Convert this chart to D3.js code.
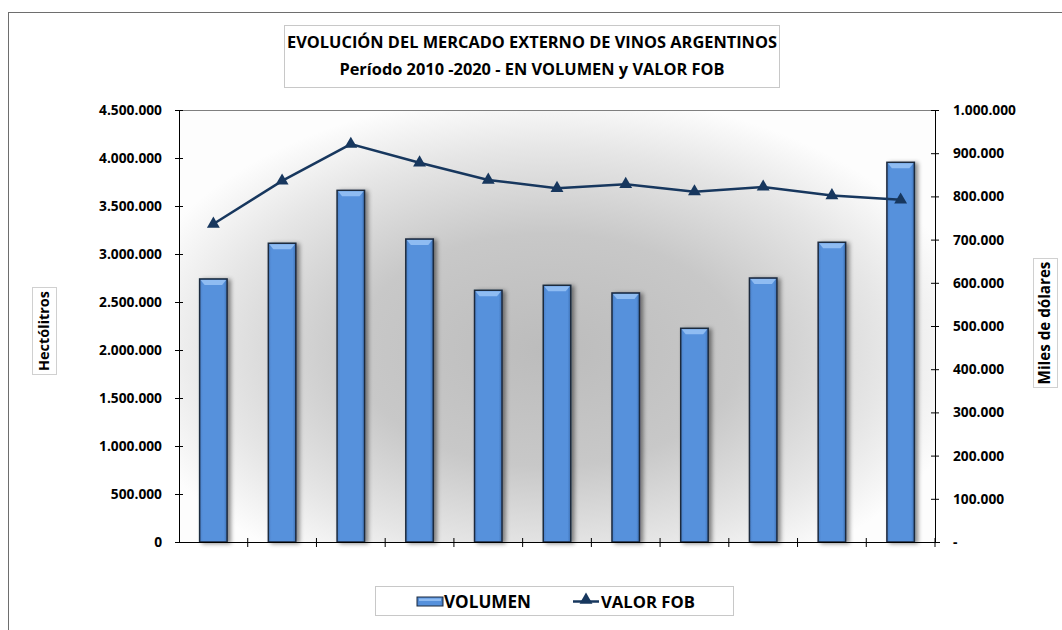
<!DOCTYPE html>
<html>
<head>
<meta charset="utf-8">
<script src="https://cdn.jsdelivr.net/npm/d3@7"></script>
<style>
  html, body { margin: 0; padding: 0; background: #ffffff; }
  svg { display: block; }
  text { font-family: "Open Sans", "Noto Sans", sans-serif; font-weight: bold; fill: #000; }
</style>
</head>
<body>
<svg id="chart" width="1062" height="630"></svg>
<script>
// ---- data ----
const years = ["2010","2011","2012","2013","2014","2015","2016","2017","2018","2019","2020"];
const volumen = [2740000, 3112000, 3663000, 3156000, 2622000, 2674000, 2594000, 2226000, 2750000, 3122000, 3955000];
const valorFob = [736000, 836000, 921000, 878000, 838000, 819000, 828000, 811000, 822000, 802000, 792000];
const leftTicks = [0, 500000, 1000000, 1500000, 2000000, 2500000, 3000000, 3500000, 4000000, 4500000];
const rightTicks = [0, 100000, 200000, 300000, 400000, 500000, 600000, 700000, 800000, 900000, 1000000];
const titleLines = ["EVOLUCIÓN DEL MERCADO EXTERNO DE VINOS ARGENTINOS", "Período 2010 -2020 - EN VOLUMEN y VALOR FOB"];
const seriesNames = ["VOLUMEN", "VALOR FOB"];
const axisTitles = ["Hectólitros", "Miles de dólares"];

// ---- layout ----
const svg = d3.select("#chart");
const L = 179, R = 935, T = 110, B = 542;
const loc = d3.formatLocale({decimal: ",", thousands: ".", grouping: [3], currency: ["$", ""]});
const fmt = loc.format(",.0f");

// size a text so its width matches a target width (Calibri-like metrics)
function fitSize(sel, target) {
  sel.style("font-size", "20px");
  const w = sel.node().getComputedTextLength();
  const s = 20 * target / w;
  sel.style("font-size", s + "px");
  return s;
}

const x = d3.scaleBand().domain(years).range([L, R]).paddingInner(0.6).paddingOuter(0.3);
const yL = d3.scaleLinear().domain([0, 4500000]).range([B, T]);
const yR = d3.scaleLinear().domain([0, 1000000]).range([B, T]);

const defs = svg.append("defs");
const bg = defs.append("radialGradient").attr("id", "bg")
  .attr("gradientUnits", "userSpaceOnUse")
  .attr("cx", 548).attr("cy", 350).attr("r", 430)
  .attr("gradientTransform", "translate(548,350) scale(1,0.6) translate(-548,-350)");
bg.append("stop").attr("offset", 0).attr("stop-color", "#bcbcbc");
bg.append("stop").attr("offset", 0.45).attr("stop-color", "#c8c8c8");
bg.append("stop").attr("offset", 0.78).attr("stop-color", "#e6e6e6");
bg.append("stop").attr("offset", 1).attr("stop-color", "#fdfdfd");

const sh = defs.append("filter").attr("id", "shadow").attr("x", "-30%").attr("y", "-10%").attr("width", "180%").attr("height", "130%");
sh.append("feDropShadow").attr("dx", 3).attr("dy", 1).attr("stdDeviation", 2)
  .attr("flood-color", "#000").attr("flood-opacity", 0.45);

const barGrad = defs.append("linearGradient").attr("id", "barg").attr("x1", 0).attr("x2", 1).attr("y1", 0).attr("y2", 0);
barGrad.append("stop").attr("offset", 0).attr("stop-color", "#4a80c8");
barGrad.append("stop").attr("offset", 0.12).attr("stop-color", "#5691dc");
barGrad.append("stop").attr("offset", 0.88).attr("stop-color", "#5691dc");
barGrad.append("stop").attr("offset", 1).attr("stop-color", "#3f72b6");

// outer border
svg.append("rect").attr("x", 8.5).attr("y", 12.5).attr("width", 1100).attr("height", 700)
  .attr("fill", "none").attr("stroke", "#6e6e6e").attr("stroke-width", 1);

// plot background
svg.append("rect").attr("x", L).attr("y", T).attr("width", R - L).attr("height", B - T)
  .attr("fill", "url(#bg)");
svg.append("line").attr("x1", L).attr("x2", R).attr("y1", T + 0.5).attr("y2", T + 0.5)
  .attr("stroke", "#7f7f7f").attr("stroke-width", 1);

// bars
const bw = x.bandwidth();
const bars = svg.append("g").selectAll("g.bar").data(years).join("g").attr("class", "bar");
bars.append("rect")
  .attr("x", d => x(d)).attr("y", (d, i) => yL(volumen[i]))
  .attr("width", bw).attr("height", (d, i) => B - yL(volumen[i]))
  .attr("fill", "url(#barg)").attr("stroke", "#1c2a3e").attr("stroke-width", 1.5)
  .attr("filter", "url(#shadow)");
bars.append("path")
  .attr("d", (d, i) => {
    const x0 = x(d) + 1, x1 = x(d) + bw - 1, y0 = yL(volumen[i]) + 1;
    return `M${x0},${y0}L${x1},${y0}L${x1 - 4},${y0 + 5}L${x0 + 4},${y0 + 5}Z`;
  })
  .attr("fill", "#8fbcf2");

// axes
const axL = d3.axisLeft(yL).tickValues(leftTicks).tickFormat(d => fmt(d)).tickSizeInner(4).tickSizeOuter(0).tickPadding(13);
const gL = svg.append("g").attr("transform", `translate(${L},0)`).call(axL);
gL.selectAll(".tick line").attr("x2", 4).attr("x1", -4);
const axR = d3.axisRight(yR).tickValues(rightTicks).tickFormat(d => d === 0 ? "-" : fmt(d)).tickSizeInner(4).tickSizeOuter(0).tickPadding(14);
const gR = svg.append("g").attr("transform", `translate(${R},0)`).call(axR);
gR.selectAll(".tick line").attr("x1", -4).attr("x2", 4);
let tickSize = 12;
[gL, gR].forEach(g => {
  g.select(".domain").attr("stroke", "#000").attr("stroke-width", 1);
  g.selectAll(".tick line").attr("stroke", "#000");
  g.selectAll(".tick text").style("font-family", null).attr("font-family", null).attr("font-size", null).attr("fill", "#000");
});
tickSize = fitSize(gL.selectAll(".tick text").filter(d => d === 4500000), 63);
gL.selectAll(".tick text").style("font-size", tickSize + "px");
gR.selectAll(".tick text").style("font-size", tickSize + "px");

const axB = d3.axisBottom(x).tickFormat("").tickSize(0).tickSizeOuter(0);
const gB = svg.append("g").attr("transform", `translate(0,${B})`).call(axB);
gB.select(".domain").attr("stroke", "#000");
const bounds = d3.range(years.length + 1).map(i => L + i * x.step());
svg.append("g").selectAll("line").data(bounds.slice(1)).join("line")
  .attr("x1", d => d).attr("x2", d => d).attr("y1", B - 4).attr("y2", B + 5)
  .attr("stroke", "#000");
svg.append("line").attr("x1", L - 4).attr("x2", R + 5).attr("y1", B + 0.5).attr("y2", B + 0.5).attr("stroke", "#000");

// line series
const lineGen = d3.line().x((d, i) => x(years[i]) + bw / 2).y(d => yR(d));
svg.append("path").datum(valorFob).attr("d", lineGen)
  .attr("fill", "none").attr("stroke", "#17375e").attr("stroke-width", 2.5);
const tri = d3.symbol().type(d3.symbolTriangle).size(72);
svg.append("g").selectAll("path").data(valorFob).join("path")
  .attr("transform", (d, i) => `translate(${x(years[i]) + bw / 2},${yR(d)})`)
  .attr("d", tri).attr("fill", "#17375e");

// title
svg.append("rect").attr("x", 284.5).attr("y", 25.5).attr("width", 495).attr("height", 62)
  .attr("fill", "#fff").attr("stroke", "#c8c8c8");
const tt = svg.append("g").selectAll("text").data(titleLines).join("text")
  .attr("x", 532).attr("y", (d, i) => 48 + i * 27).attr("text-anchor", "middle").text(d => d);
const ts = fitSize(tt.filter((d, i) => i === 0), 490);
tt.style("font-size", ts + "px");

// axis titles
const at = svg.append("g");
at.append("rect").attr("x", 32.5).attr("y", 287.5).attr("width", 24).attr("height", 87)
  .attr("fill", "#fff").attr("stroke", "#d0d0d0");
const a1 = at.append("text").attr("transform", "translate(49,331) rotate(-90)").attr("text-anchor", "middle")
  .text(axisTitles[0]);
at.append("rect").attr("x", 1033.5).attr("y", 258.5).attr("width", 24).attr("height", 129)
  .attr("fill", "#fff").attr("stroke", "#d0d0d0");
const a2 = at.append("text").attr("transform", "translate(1050,323) rotate(-90)").attr("text-anchor", "middle")
  .text(axisTitles[1]);
fitSize(a1, 80);
fitSize(a2, 123);

// legend
const lg = svg.append("g");
lg.append("rect").attr("x", 375.5).attr("y", 586.5).attr("width", 358).attr("height", 29)
  .attr("fill", "#fff").attr("stroke", "#c8c8c8");
lg.append("rect").attr("x", 417).attr("y", 597).attr("width", 26).attr("height", 9)
  .attr("fill", "url(#barg)").attr("stroke", "#1c2a3e").attr("stroke-width", 1);
lg.append("rect").attr("x", 419).attr("y", 598.5).attr("width", 22).attr("height", 2.5).attr("fill", "#8fbcf2");
const l1 = lg.append("text").attr("x", 444).attr("y", 607.5).text(seriesNames[0]);
lg.append("line").attr("x1", 573).attr("x2", 599).attr("y1", 601.5).attr("y2", 601.5)
  .attr("stroke", "#17375e").attr("stroke-width", 2.5);
lg.append("path").attr("transform", "translate(586,600)").attr("d", tri).attr("fill", "#17375e");
const l2 = lg.append("text").attr("x", 601).attr("y", 607.5).text(seriesNames[1]);
fitSize(l1, 87);
fitSize(l2, 94);
</script>
</body>
</html>
